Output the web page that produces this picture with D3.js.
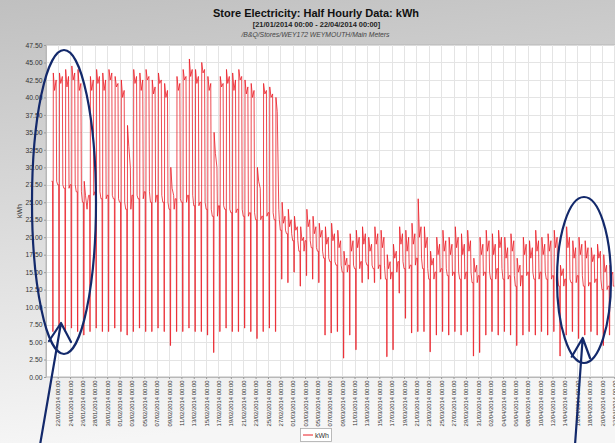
<!DOCTYPE html>
<html><head><meta charset="utf-8">
<script src="https://cdn.jsdelivr.net/npm/d3@7"></script>
<style>
body{margin:0;background:#fff}
svg{display:block}
text{font-family:"Liberation Sans",Arial,sans-serif}
</style>
</head><body>
<svg id="c" width="615" height="443"></svg>
<script>
// ---------------- DATA ----------------
const titleText = "Store Electricity: Half Hourly Data: kWh";
const subtitleText = "[21/01/2014 00:00 - 22/04/2014 00:00]";
const pathText = "/B&Q/Stores/WEY172 WEYMOUTH/Main Meters";
const seriesName = "kWh";
const startDay = "21/01/2014 00:00";
const endDay = "22/04/2014 00:00";
const yTicks = [0,2.5,5,7.5,10,12.5,15,17.5,20,22.5,25,27.5,30,32.5,35,37.5,40,42.5,45,47.5];
const xTickLabels = ["22/01/2014 00:00","24/01/2014 00:00","26/01/2014 00:00","28/01/2014 00:00","30/01/2014 00:00",
 "01/02/2014 00:00","03/02/2014 00:00","05/02/2014 00:00","07/02/2014 00:00","09/02/2014 00:00","11/02/2014 00:00",
 "13/02/2014 00:00","15/02/2014 00:00","17/02/2014 00:00","19/02/2014 00:00","21/02/2014 00:00","23/02/2014 00:00",
 "25/02/2014 00:00","27/02/2014 00:00","01/03/2014 00:00","03/03/2014 00:00","05/03/2014 00:00","07/03/2014 00:00",
 "09/03/2014 00:00","11/03/2014 00:00","13/03/2014 00:00","15/03/2014 00:00","17/03/2014 00:00","19/03/2014 00:00",
 "21/03/2014 00:00","23/03/2014 00:00","25/03/2014 00:00","27/03/2014 00:00","29/03/2014 00:00","31/03/2014 00:00",
 "02/04/2014 00:00","04/04/2014 00:00","06/04/2014 00:00","08/04/2014 00:00","10/04/2014 00:00","12/04/2014 00:00",
 "14/04/2014 00:00","16/04/2014 00:00","18/04/2014 00:00","20/04/2014 00:00","22/04/2014 00:00"];
// reading times within each day (hours) and the daily readings (kWh) per half-hour slot
const readingHours = [0, 4, 5, 6, 7, 12, 18, 20];
const dayBase = [28,27.5,27,27.5,26.5,25, 26,26.5,25.5,26,25.5,25,24, 26,25.5,26.5,25,26,25,24,
 25.5,25,26,24.5,25,24,23, 24.5,24,23.5,24,23,23.5,22.5, 23,23.5,22.5, 21,20.5,19.5,18,
 19.5,18.5,18,17,16.5,16,15, 16,15.5,16.5,16,15.5,16,14, 15,16.5,15.5,16,17,15.5,14,
 15,15.5,14.5,15,14,15,13.5, 14.5,15,14,15.5,14,14.5,13, 14.5,15,14,15,14,14.5,13,
 14,13.5,14.5,13,13.5,14,12.5,13];
const dayLow = [6.5,7,6.5,7,6.5,6, 6.5,7,6.5,6.5,7,6.5,6, 6.5,7,6.5,6.5,7,6.5,4.5,
 6.5,6.5,7,6.5,6.5,6,3.5, 6.5,7,6.5,6.5,7,6.5,5.5, 6.5,7,6.5, 14,13.5,15,13,
 14.5,14,13.5,6,6.3,6.5,2.7, 6,3.9,13.5,14,13.5,14,2.9, 3.9,12,8.4,6.3,6.5,6.5,3.6,
 6,6.5,6,6.5,6,6.5,3, 3.5,6,6.5,6,6.5,6,4.5, 6,6.5,6,6.5,6,6.5,3,
 6,6.5,5.5,6,6.5,6,4.5,6];
const dayPeak = [43.5,43.5,44,44.5,44,28, 43,44,43.5,44,43,42.5,36, 44,43.5,44,42.5,43.5,42,30,
 43,44,45.5,44,45,43,35, 43,44,43.5,44,42.5,42,30, 42,41.5,40, 25,24,23,21.5,
 24,23,22,21.5,22,21,18, 20.5,21,21.5,20,21.5,21,17.5, 19,21.5,21,22,25.5,21.5,18,
 20,21,20,21.5,20.5,21,17, 20,21,20.5,21,20,20.5,17, 20,19.5,21,20,20.5,21,16,
 21.5,19.5,20,19.5,18.5,19,17.5,16];
const dayMid = [41,42,41.5,42.5,41,26, 41,42,41,42.5,41.5,40,33, 42,41,42.5,40.5,42,40,27,
 41,42.5,43,42,43.5,41,32, 41.5,42,41,42.5,40.5,40,28, 40.5,40,38, 22,21.5,21,19.5,
 21.5,20.5,20,19,19.5,18.5,16, 18,18.5,19,18,19,18.5,15.5, 17,19,18,19,20,18.5,16,
 17.5,18,17.5,18.5,17.5,18,15, 17.5,18,17.5,18.5,17,18,15, 17.5,17,18,17.5,18,18.5,14.5,
 18.5,17,17.5,17,16.5,17,15,14.5];
const dayEve = [42.5,43,43,43.5,42,24, 42.5,43,42.5,43.5,42,41,30, 43,42.5,43,41.5,42.5,41,26,
 42,43,44,43,44,42,30, 42,43,42.5,43,41.5,41,27, 41,40.5,24, 23,22.5,21.5,20,
 22.5,21.5,21,20,20.5,19.5,17, 19.5,20,20.5,19,20.5,20,16.5, 18,20.5,20,20.5,21.5,20,17,
 19,19.5,19,20,19,19.5,16, 19,19.5,19,20,18.5,19.5,16, 19,18.5,19.5,19,19.5,20,15.5,
 20,18.5,19,18.5,17.5,18,16,15];

// ---------------- BUILD ----------------
const parse = d3.utcParse("%d/%m/%Y %H:%M");
const t0 = parse(startDay), t1 = parse(endDay);
const points = [];
dayBase.forEach((b, d) => {
  const vals = [b, b, dayLow[d], dayLow[d], dayPeak[d], dayMid[d], dayEve[d], b];
  readingHours.forEach((h, i) => {
    points.push({t: d3.utcHour.offset(d3.utcDay.offset(t0, d), h), v: vals[i]});
  });
});
points.push({t: t1, v: dayBase[dayBase.length - 1]});

const svg = d3.select("#c");
const W = 615, H = 443;
const plot = {left: 46, top: 45, right: 618, bottom: 377};

const defs = svg.append("defs");
const g1 = defs.append("linearGradient").attr("id", "bg").attr("x1", 0).attr("y1", 0).attr("x2", 0.15).attr("y2", 1);
g1.append("stop").attr("offset", "0%").attr("stop-color", "#c0c0c0");
g1.append("stop").attr("offset", "55%").attr("stop-color", "#dedede");
g1.append("stop").attr("offset", "100%").attr("stop-color", "#f6f6f6");
defs.append("clipPath").attr("id", "clip").append("rect")
  .attr("x", plot.left).attr("y", plot.top).attr("width", plot.right - plot.left).attr("height", plot.bottom - plot.top);

svg.append("rect").attr("width", W).attr("height", H).attr("fill", "url(#bg)");

const x = d3.scaleUtc().domain([t0, t1]).range([51.5, 614.3]);
const y = d3.scaleLinear().domain([0, 47.5]).range([plot.bottom, plot.top]);

// plot background
svg.append("rect").attr("x", plot.left).attr("y", plot.top)
  .attr("width", plot.right - plot.left).attr("height", plot.bottom - plot.top)
  .attr("fill", "#ffffff").attr("stroke", "#b8b8b8").attr("stroke-width", 1);

const xTickDates = xTickLabels.map(parse);
// gridlines
svg.append("g").selectAll("line").data(xTickDates).join("line")
  .attr("x1", d => Math.round(x(d)) + 0.5).attr("x2", d => Math.round(x(d)) + 0.5)
  .attr("y1", plot.top).attr("y2", plot.bottom)
  .attr("stroke", "#e4e4e4").attr("stroke-width", 1);
svg.append("g").selectAll("line").data(yTicks.slice(1, -1)).join("line")
  .attr("x1", plot.left).attr("x2", plot.right)
  .attr("y1", d => Math.round(y(d)) + 0.5).attr("y2", d => Math.round(y(d)) + 0.5)
  .attr("stroke", "#e4e4e4").attr("stroke-width", 1);

// series
const line = d3.line().x(d => x(d.t)).y(d => y(d.v));
svg.append("path").datum(points)
  .attr("clip-path", "url(#clip)")
  .attr("d", line).attr("fill", "none")
  .attr("stroke", "#ea1c24").attr("stroke-width", 0.8).attr("stroke-linejoin", "round");

// y axis
const yAxis = svg.append("g").attr("transform", `translate(${plot.left},0)`)
  .call(d3.axisLeft(y).tickValues(yTicks).tickFormat(d3.format(".2f")).tickSize(2).tickSizeOuter(0));
yAxis.select(".domain").attr("stroke", "#b8b8b8");
yAxis.selectAll(".tick line").attr("stroke", "#999");
yAxis.selectAll("text").attr("font-size", 6.8).attr("fill", "#333").attr("font-family", "Liberation Sans, Arial, sans-serif").attr("x", -3.5);

svg.append("text").attr("transform", "translate(22,211) rotate(-90)")
  .attr("text-anchor", "middle").attr("font-size", 7).attr("fill", "#333").text(seriesName);

// x axis
const xAxis = svg.append("g").attr("transform", `translate(0,${plot.bottom})`)
  .call(d3.axisBottom(x).tickValues(xTickDates).tickFormat((d, i) => xTickLabels[i]).tickSize(2).tickSizeOuter(0));
xAxis.select(".domain").attr("stroke", "#b8b8b8");
xAxis.selectAll(".tick line").attr("stroke", "#999");
xAxis.selectAll("text")
  .attr("font-size", 5.9).attr("fill", "#333").attr("font-family", "Liberation Sans, Arial, sans-serif")
  .attr("text-anchor", "end").attr("x", 0).attr("y", 0).attr("dy", "0.35em")
  .attr("transform", "translate(0,3.5) rotate(-90)");

// titles
svg.append("text").attr("x", 316).attr("y", 17).attr("text-anchor", "middle")
  .attr("font-size", 11).attr("font-weight", "bold").attr("fill", "#111").text(titleText);
svg.append("text").attr("x", 316.5).attr("y", 27).attr("text-anchor", "middle")
  .attr("font-size", 7.4).attr("font-weight", "bold").attr("fill", "#222").text(subtitleText);
svg.append("text").attr("x", 315.5).attr("y", 36.5).attr("text-anchor", "middle")
  .attr("font-size", 6.8).attr("font-style", "italic").attr("fill", "#444").text(pathText);

// legend
const lg = svg.append("g");
lg.append("rect").attr("x", 300.5).attr("y", 428.5).attr("width", 31).attr("height", 13)
  .attr("fill", "#fff").attr("stroke", "#aaa").attr("stroke-width", 0.8);
lg.append("line").attr("x1", 303).attr("x2", 313).attr("y1", 435).attr("y2", 435)
  .attr("stroke", "#ea1c24").attr("stroke-width", 1);
lg.append("text").attr("x", 315).attr("y", 437.5).attr("font-size", 7).attr("fill", "#333").text(seriesName);

// annotations (ellipses and arrows)
const ann = svg.append("g").attr("fill", "none").attr("stroke", "#13296b").attr("stroke-width", 2.2)
  .attr("stroke-linecap", "round").attr("stroke-linejoin", "round");
ann.append("ellipse").attr("cx", 64).attr("cy", 202).attr("rx", 32).attr("ry", 152);
ann.append("ellipse").attr("cx", 584).attr("cy", 280).attr("rx", 27).attr("ry", 83);
ann.append("path").attr("d", "M40,445 L61,323 M49,341 L61,323 L71,342");
ann.append("path").attr("d", "M575,445 L582.7,338 M571.7,356.7 L582.7,338 L590,358");
</script>
</body></html>
